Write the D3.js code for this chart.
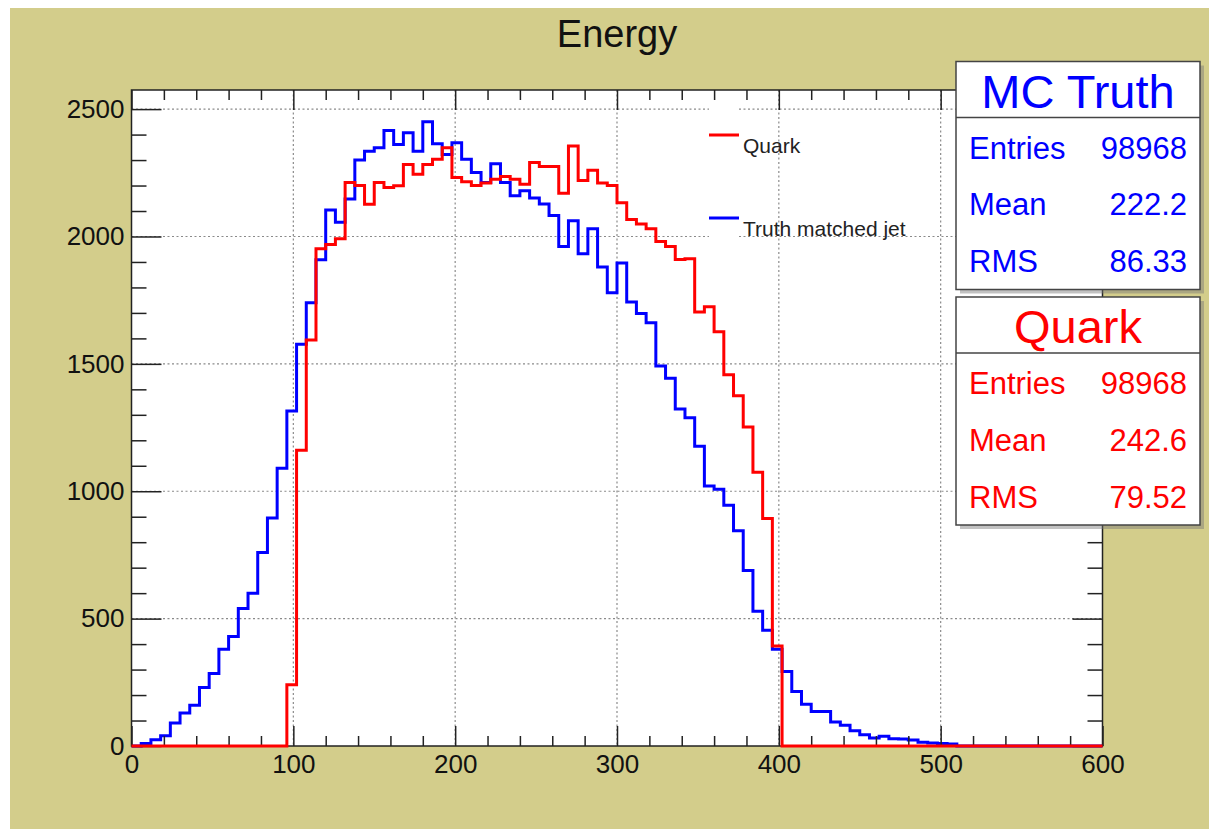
<!DOCTYPE html>
<html>
<head>
<meta charset="utf-8">
<script src="https://cdn.jsdelivr.net/npm/d3@7"></script>
<style>
  html, body { margin: 0; padding: 0; background: #fff; }
  svg { display: block; font-family: "Liberation Sans", Arial, sans-serif; }
</style>
</head>
<body>
<div id="chart"></div>
<script>
// histogram: 100 bins of width 6 between 0 and 600
var xMin = 0, xMax = 600, nBins = 100;

var truthCounts = [
  0, 10, 25, 40, 90, 130, 160, 230, 285, 380,
  430, 540, 600, 760, 895, 1090, 1315, 1577, 1740, 1909,
  2104, 2056, 2147, 2300, 2335, 2348, 2416, 2361, 2407, 2335,
  2450, 2364, 2322, 2368, 2303, 2251, 2212, 2286, 2212, 2160,
  2180, 2151, 2128, 2082, 1961, 2062, 1932, 2030, 1880, 1779,
  1896, 1743, 1698, 1661, 1492, 1444, 1323, 1288, 1177, 1021,
  1008, 945, 845, 689, 529, 454, 380, 292, 214, 164,
  135, 135, 94, 81, 60, 44, 31, 38, 28, 27,
  24, 15, 12, 10, 8, 0, 0, 0, 0, 0,
  0, 0, 0, 0, 0, 0, 0, 0, 0, 0
];

var quarkCounts = [
  0, 0, 0, 0, 0, 0, 0, 0, 0, 0,
  0, 0, 0, 0, 0, 0, 240, 1161, 1594, 1952,
  1969, 1991, 2212, 2200, 2127, 2212, 2192, 2199, 2283, 2244,
  2283, 2303, 2348, 2232, 2215, 2200, 2210, 2225, 2235, 2225,
  2205, 2290, 2275, 2275, 2170, 2355, 2220, 2260, 2210, 2200,
  2132, 2067, 2049, 2030, 1980, 1961, 1910, 1913, 1704, 1724,
  1626, 1457, 1375, 1252, 1075, 893, 393, 0, 0, 0,
  0, 0, 0, 0, 0, 0, 0, 0, 0, 0,
  0, 0, 0, 0, 0, 0, 0, 0, 0, 0,
  0, 0, 0, 0, 0, 0, 0, 0, 0, 0
];

var xMajorTicks = [0, 100, 200, 300, 400, 500, 600];
var yMajorTicks = [0, 500, 1000, 1500, 2000, 2500];

var legendLabels = ["Quark", "Truth matched jet"];

var statsTruth = { title: "MC Truth", rows: [["Entries", "98968"], ["Mean", "222.2"], ["RMS", "86.33"]] };
var statsQuark = { title: "Quark", rows: [["Entries", "98968"], ["Mean", "242.6"], ["RMS", "79.52"]] };

var width = 1209, height = 829;
var frame = {left: 131.5, right: 1102.5, top: 90, bottom: 746};
var khaki = "#d3cd8b";

var svg = d3.select("#chart").append("svg")
  .attr("width", width)
  .attr("height", height);

svg.append("rect")
  .attr("x", 10).attr("y", 8)
  .attr("width", width - 10).attr("height", height - 8)
  .attr("fill", khaki);

var xScale = d3.scaleLinear().domain([xMin, xMax]).range([frame.left, frame.right]);
var yScale = d3.scaleLinear().domain([0, 2575]).range([frame.bottom, frame.top]);

// plot area
svg.append("rect")
  .attr("x", frame.left).attr("y", frame.top)
  .attr("width", frame.right - frame.left).attr("height", frame.bottom - frame.top)
  .attr("fill", "#fff");

// grid
var grid = svg.append("g")
  .attr("stroke", "#8a8a8a")
  .attr("stroke-width", 1.2)
  .attr("stroke-dasharray", "2,2.5");

grid.selectAll(".gx")
  .data(xMajorTicks.filter(function(d) { return d > xMin && d < xMax; }))
  .enter().append("line")
  .attr("x1", function(d) { return xScale(d); })
  .attr("x2", function(d) { return xScale(d); })
  .attr("y1", frame.top).attr("y2", frame.bottom);

grid.selectAll(".gy")
  .data(yMajorTicks.filter(function(d) { return d > 0; }))
  .enter().append("line")
  .attr("y1", function(d) { return yScale(d); })
  .attr("y2", function(d) { return yScale(d); })
  .attr("x1", frame.left).attr("x2", frame.right);

// legend white patch
svg.append("rect")
  .attr("x", 709).attr("y", 100)
  .attr("width", 28).attr("height", 144)
  .attr("fill", "#fff");

// histograms
var binW = (xMax - xMin) / nBins;
var histLine = d3.line()
  .x(function(d) { return xScale(d[0]); })
  .y(function(d) { return yScale(d[1]); })
  .curve(d3.curveStepAfter);

function histPoints(counts) {
  var pts = counts.map(function(c, i) { return [xMin + i * binW, c]; });
  pts.push([xMax, counts[counts.length - 1]]);
  return pts;
}

svg.append("path")
  .datum(histPoints(truthCounts))
  .attr("d", histLine)
  .attr("fill", "none")
  .attr("stroke", "#0000ff")
  .attr("stroke-width", 3);

// axes (ticks pointing inwards like ROOT)
var xMinor = d3.range(xMin, xMax + 1, 20).filter(function(d) { return d % 100 !== 0; });
var yMinor = d3.range(0, 2575, 100).filter(function(d) { return d % 500 !== 0; });

var xAxis = d3.axisBottom(xScale).tickValues(xMajorTicks).tickSize(-20).tickSizeOuter(0).tickPadding(9).tickFormat(d3.format("d"));
var xAxisMinor = d3.axisBottom(xScale).tickValues(xMinor).tickSize(-10).tickSizeOuter(0).tickFormat("");
var xAxisTop = d3.axisTop(xScale).tickValues(xMajorTicks).tickSize(-20).tickSizeOuter(0).tickFormat("");
var xAxisTopMinor = d3.axisTop(xScale).tickValues(xMinor).tickSize(-10).tickSizeOuter(0).tickFormat("");

var yAxis = d3.axisLeft(yScale).tickValues(yMajorTicks).tickSize(-30).tickSizeOuter(0).tickPadding(7).tickFormat(d3.format("d"));
var yAxisMinor = d3.axisLeft(yScale).tickValues(yMinor).tickSize(-15).tickSizeOuter(0).tickFormat("");
var yAxisRight = d3.axisRight(yScale).tickValues(yMajorTicks).tickSize(-30).tickSizeOuter(0).tickFormat("");
var yAxisRightMinor = d3.axisRight(yScale).tickValues(yMinor).tickSize(-15).tickSizeOuter(0).tickFormat("");

function styleAxis(g) {
  g.select(".domain").remove();
  g.selectAll(".tick line").attr("stroke", "#222").attr("stroke-width", 1.5);
  g.selectAll(".tick text")
    .attr("fill", "#111")
    .style("font-size", "26px")
    .style("font-family", "'Liberation Sans', Arial, sans-serif");
}

svg.append("g").attr("transform", "translate(0," + frame.bottom + ")").call(xAxis).call(styleAxis);
svg.append("g").attr("transform", "translate(0," + frame.bottom + ")").call(xAxisMinor).call(styleAxis);
svg.append("g").attr("transform", "translate(0," + frame.top + ")").call(xAxisTop).call(styleAxis);
svg.append("g").attr("transform", "translate(0," + frame.top + ")").call(xAxisTopMinor).call(styleAxis);
svg.append("g").attr("transform", "translate(" + frame.left + ",0)").call(yAxis).call(styleAxis);
svg.append("g").attr("transform", "translate(" + frame.left + ",0)").call(yAxisMinor).call(styleAxis);
svg.append("g").attr("transform", "translate(" + frame.right + ",0)").call(yAxisRight).call(styleAxis);
svg.append("g").attr("transform", "translate(" + frame.right + ",0)").call(yAxisRightMinor).call(styleAxis);

// frame border
svg.append("rect")
  .attr("x", frame.left).attr("y", frame.top)
  .attr("width", frame.right - frame.left).attr("height", frame.bottom - frame.top)
  .attr("fill", "none")
  .attr("stroke", "#222")
  .attr("stroke-width", 1.5);

// quark drawn last so its zero line sits on the frame bottom
svg.append("path")
  .datum(histPoints(quarkCounts))
  .attr("d", histLine)
  .attr("fill", "none")
  .attr("stroke", "#ff0000")
  .attr("stroke-width", 3);

// title
svg.append("text")
  .attr("x", (frame.left + frame.right) / 2)
  .attr("y", 47)
  .attr("text-anchor", "middle")
  .attr("fill", "#111")
  .style("font-size", "38px")
  .text("Energy");

// legend
var legend = svg.append("g");
var legendColors = ["#ff0000", "#0000ff"];
var legendY = [135, 218];
legendLabels.forEach(function(lab, i) {
  legend.append("line")
    .attr("x1", 709).attr("x2", 739)
    .attr("y1", legendY[i]).attr("y2", legendY[i])
    .attr("stroke", legendColors[i])
    .attr("stroke-width", 3);
  legend.append("text")
    .attr("x", 743)
    .attr("y", legendY[i] + 18)
    .attr("fill", "#222")
    .style("font-size", "21px")
    .text(lab);
});

// stats boxes
function statsBox(stats, top, color) {
  var left = 956, right = 1200, bottom = top + 228;
  var g = svg.append("g");
  g.append("rect")
    .attr("x", left + 4).attr("y", top + 4)
    .attr("width", right - left).attr("height", bottom - top)
    .attr("fill", "#777").attr("opacity", 0.45);
  g.append("rect")
    .attr("x", left).attr("y", top)
    .attr("width", right - left).attr("height", bottom - top)
    .attr("fill", "#fff")
    .attr("stroke", "#444")
    .attr("stroke-width", 1.5);
  g.append("line")
    .attr("x1", left).attr("x2", right)
    .attr("y1", top + 56).attr("y2", top + 56)
    .attr("stroke", "#444")
    .attr("stroke-width", 1.5);
  g.append("text")
    .attr("x", (left + right) / 2)
    .attr("y", top + 46)
    .attr("text-anchor", "middle")
    .attr("fill", color)
    .style("font-size", "47px")
    .text(stats.title);
  stats.rows.forEach(function(r, i) {
    var y = top + 97 + i * 56.8;
    g.append("text")
      .attr("x", left + 13).attr("y", y)
      .attr("fill", color)
      .style("font-size", "31px")
      .text(r[0]);
    g.append("text")
      .attr("x", right - 13).attr("y", y)
      .attr("text-anchor", "end")
      .attr("fill", color)
      .style("font-size", "31px")
      .text(r[1]);
  });
}

statsBox(statsTruth, 61.5, "#0000ff");
statsBox(statsQuark, 297, "#ff0000");
</script>
</body>
</html>
